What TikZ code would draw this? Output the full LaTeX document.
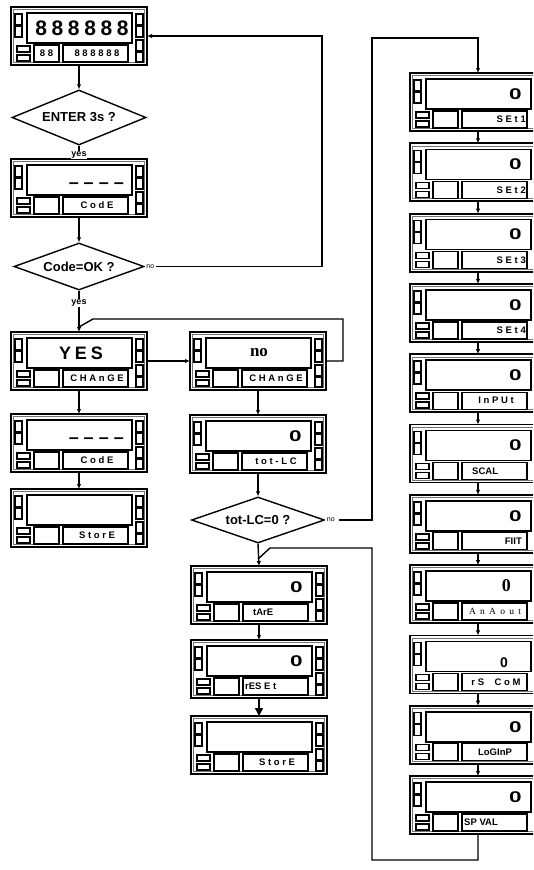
\documentclass[tikz,border=0pt]{standalone}
\usepackage{fontspec}
\setmainfont{Liberation Sans}
\newfontfamily\lcdfont{Liberation Sans}[LetterSpace=28]
\newfontfamily\bigfont{Liberation Sans}[LetterSpace=22]
\newfontfamily\lcdserif{Liberation Serif}[LetterSpace=45]
\newfontfamily\romfont{Liberation Serif}
\usetikzlibrary{arrows.meta,shapes.geometric}

\tikzset{
  frame/.style={draw,line width=1.8pt,inner sep=0pt,outer sep=0pt,minimum width=136pt,minimum height=58pt},
  rim/.style={draw,black!55,line width=0.6pt},
  window/.style={draw,line width=1.6pt},
  led/.style={draw,line width=1.5pt,fill=white},
  slot/.style={draw,line width=1.3pt,inner sep=0pt,outer sep=0pt},
  flow/.style={line width=1.4pt,-{Latex[length=5pt,width=4.5pt]}},
  link/.style={line width=1.4pt},
  query/.style={diamond,draw,line width=1.4pt,inner sep=0pt,aspect=2.6,font=\fontsize{13}{13}\selectfont\bfseries},
  tag/.style={font=\fontsize{9}{9}\selectfont\bfseries,fill=white,inner sep=0.5pt},
  notag/.style={font=\fontsize{7}{7}\selectfont,fill=white,inner sep=1.5pt},
  % main window texts
  bigC/.style={font=\bigfont\bfseries\fontsize{21}{21}\selectfont,at={(71,21)},inner sep=0pt},
  yesC/.style={font=\bigfont\bfseries\fontsize{18}{18}\selectfont,at={(70,21)},inner sep=0pt},
  romC/.style={font=\romfont\bfseries\fontsize{17}{17}\selectfont,at={(69,21)},inner sep=0pt},
  pinmask/.style={font=\bfseries\fontsize{18}{18}\selectfont,anchor=base east,at={(113,29)},inner sep=0pt},
  zero/.style={font=\bfseries\fontsize{15.5}{15.5}\selectfont,anchor=east,at={(112,21)},inner sep=0pt,xscale=1.45},
  zeroLow/.style={font=\bfseries\fontsize{14}{14}\selectfont,anchor=east,at={(98,27)},inner sep=0pt},
  zeroSerif/.style={font=\romfont\bfseries\fontsize{18}{18}\selectfont,anchor=east,at={(101,20)},inner sep=0pt},
  % label texts
  lblC/.style={font=\lcdfont\bfseries\fontsize{9.5}{9.5}\selectfont,at={(86,46.5)},inner sep=0pt},
  lblR/.style={lblC,anchor=east,at={(116,46.5)}},
  lblSerif/.style={font=\lcdserif\fontsize{9.5}{9.5}\selectfont,at={(85,46.5)},inner sep=0pt},
  plainC/.style={font=\bfseries\fontsize{9.5}{9.5}\selectfont,at={(85,46.5)},inner sep=0pt},
  plainW/.style={plainC,anchor=west,at={(62,46.5)}},
  plainWW/.style={plainC,anchor=west,at={(54,46.5)}},
  plainE/.style={plainC,anchor=east,at={(112,46.5)}},
}

% one front panel: name, x, y, main style, main text, label style, label text
\newcommand{\panel}[7]{%
  \begin{scope}[shift={(#2,#3)}]
    \node[frame] (#1) at (68,29) {};
    \draw[rim] (2.6,2.6) rectangle (133.4,55.4);
    \draw[window] (16,6) rectangle (121,36);
    \foreach \ya/\yb in {7/18,19/30}{
      \draw[led] (4,\ya) rectangle (11,\yb);
      \draw[led] (125,\ya) rectangle (132,\yb);}
    \foreach \ya/\yb in {33/44,45/55} \draw[led] (125,\ya) rectangle (132,\yb);
    \foreach \ya/\yb in {39/45,48/54} \draw[led] (6,\ya) rectangle (19,\yb);
    \node[slot,minimum width=25pt,minimum height=17pt] (#1-key) at (35.5,46.5) {};
    \draw[slot] (52,38) rectangle (117,55);
    \node[#4] {#5};
    \node[#6] {#7};
  \end{scope}}

\begin{document}
\begin{tikzpicture}[x=1pt,y=-1pt]
  \useasboundingbox (0,0) rectangle (533,870);
  \clip (0,0) rectangle (533,870);
  % left column
  \panel{pEntry}{11}{7}{bigC}{888888}{lblC}{888888}
  \node[lblC] at (pEntry-key) {88};
  \node[query,minimum width=134pt,minimum height=55pt] (qEnter) at (79,117.5) {ENTER 3s ?};
  \panel{pCode}{11}{159}{pinmask}{– – – –}{lblC}{CodE}
  \node[query,minimum width=130pt,minimum height=47pt] (qCode) at (79,266.5) {Code=OK ?};
  \panel{pYes}{11}{332}{yesC}{YES}{lblC}{CHAnGE}
  \panel{pCodeB}{11}{414}{pinmask}{– – – –}{lblC}{CodE}
  \panel{pStore}{11}{489}{zero}{}{lblC}{StorE}
  % middle column
  \panel{pNo}{190}{332}{romC}{no}{lblC}{CHAnGE}
  \panel{pTotal}{190}{415}{zero}{0}{lblC}{tot-LC}
  \node[query,minimum width=133pt,minimum height=46pt] (qTotal) at (258,520) {tot-LC=0 ?};
  \panel{pTare}{191}{566}{zero}{0}{plainW}{tArE}
  \panel{pReset}{191}{640}{zero}{0}{plainWW}{rES E t}
  \panel{pStoreB}{191}{716}{zero}{}{lblC}{StorE}
  % right column, setup menu
  \foreach \nm/\ms/\ls/\lt [count=\k from 0] in {r1/zero/lblR/SEt1,r2/zero/lblR/SEt2,r3/zero/lblR/SEt3,
      r4/zero/lblR/SEt4,r5/zero/lblC/InPUt,r6/zero/plainW/SCAL,r7/zero/plainE/FIIT,
      r8/zeroSerif/lblSerif/AnAout,r9/zeroLow/lblC/{rS\ \ CoM},r10/zero/plainC/LoGInP,r11/zero/plainWW/{SP VAL}}{
    \pgfmathsetmacro{\yy}{73+70.3*\k}
    \panel{\nm}{410}{\yy}{\ms}{0}{\ls}{\lt}}
  \foreach \i [evaluate=\i as \j using int(\i+1)] in {1,...,10}
    \draw[flow] (r\i.south) -- (r\j.north);

  \coordinate (loopA) at (322,150);
  \coordinate (loopB) at (343,340);
  \coordinate (joinB) at (93,319);
  \coordinate (mergeB) at (79,327);
  \coordinate (loopC) at (372,300);
  \coordinate (turnC) at (478,38);
  \coordinate (loopD) at (372,860);
  \coordinate (joinD) at (270,548);
  \coordinate (mergeD) at (258,559);

  \draw[flow] (pEntry.south) -- (qEnter.north);
  \draw[flow] (qEnter.south) -- node[tag,pos=0.68]{yes} (pCode.north);
  \draw[flow] (pCode.south) -- (qCode.north);
  \draw[flow] (qCode.south) -- node[tag,pos=0.3]{yes} (pYes.north);
  \node[notag,anchor=west] (noA) at (qCode.east) {no};
  \draw[flow] (noA.east) -| (loopA) |- (pEntry.east);
  \draw[flow] (pYes.east) -- (pNo.west);
  \draw[link] (pNo.east) -| (loopB) |- (joinB) -- (mergeB);
  \draw[flow] (pYes.south) -- (pCodeB.north);
  \draw[flow] (pCodeB.south) -- (pStore.north);
  \draw[flow] (pNo.south) -- (pTotal.north);
  \draw[flow] (pTotal.south) -- (qTotal.north);
  \node[notag,anchor=west] (noB) at (qTotal.east) {no};
  \draw[flow] ([xshift=3pt]noB.east) -| (loopC) |- (turnC) -- (r1.north);
  \draw[flow] (qTotal.south) -- (pTare.north);
  \draw[link] (r11.south) |- (loopD) |- (joinD) -- (mergeD);
  \draw[flow] (pTare.south) -- (pReset.north);
  \draw[line width=1.4pt,-{Triangle[length=8pt,width=8pt]}] (pReset.south) -- (pStoreB.north);
\end{tikzpicture}
\end{document}
